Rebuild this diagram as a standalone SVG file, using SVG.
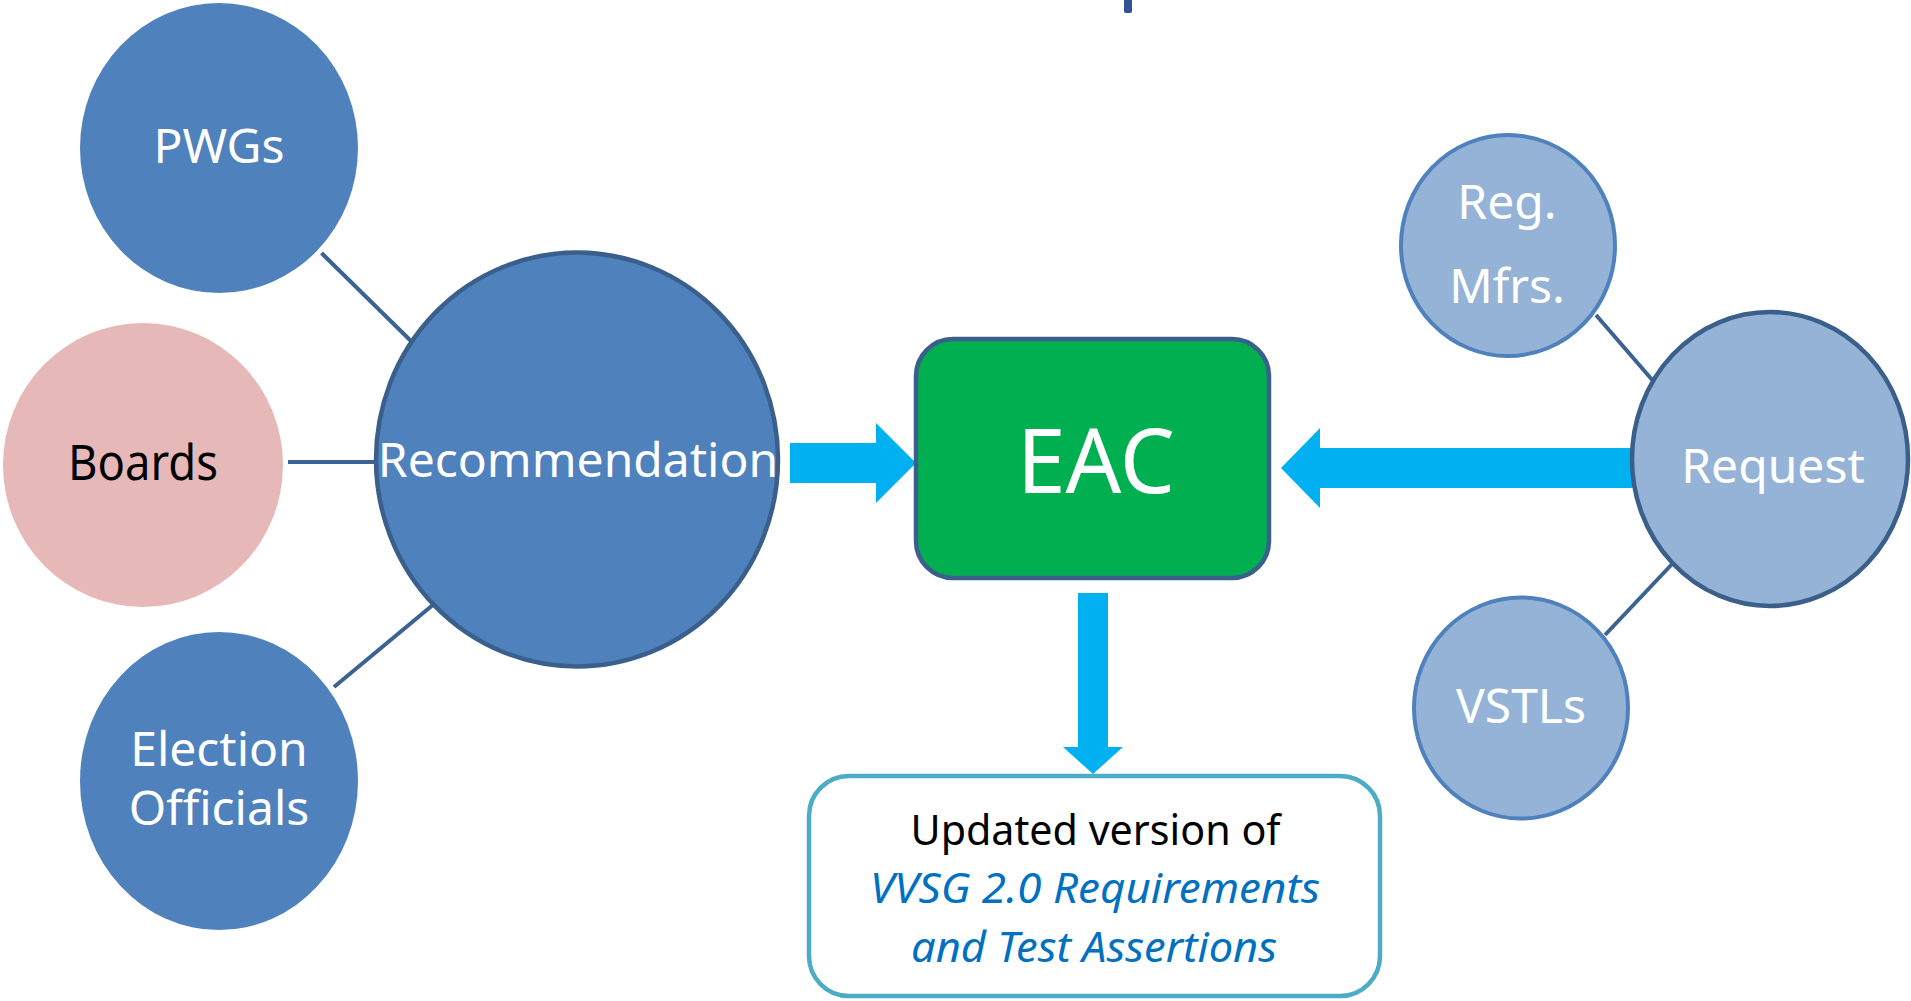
<svg xmlns="http://www.w3.org/2000/svg" width="1911" height="1001" viewBox="0 0 1911 1001">
<style>
.t{font-family:"Noto Sans","Open Sans","Liberation Sans",sans-serif;text-anchor:middle}
.w{fill:#FFFFFF;font-size:48px}
.link{stroke:#3B6293;stroke-width:4;fill:none}
.blk{fill:#00B0F0}
.it{font-style:italic;fill:#0070C0;font-size:41px}
</style>
<rect x="1124" y="-6" width="8" height="19" rx="2" fill="#2F5597"/>
<g id="connectors">
<line class="link" x1="321.5" y1="253" x2="412" y2="342"/>
<line class="link" x1="288" y1="462" x2="378" y2="462"/>
<line class="link" x1="334" y1="687" x2="434" y2="604"/>
<line class="link" x1="1596" y1="315" x2="1654" y2="382"/>
<line class="link" x1="1605" y1="635" x2="1674" y2="562"/>
<polygon class="blk" points="790,443 876,443 876,423 916,463 876,503 876,483 790,483"/>
<polygon class="blk" points="1640,448 1320,448 1320,428 1281,468 1320,508 1320,488 1640,488"/>
<polygon class="blk" points="1078,593 1108,593 1108,747 1123,747 1093,774 1063,747 1078,747"/>
</g>
<g id="pwgs">
<ellipse cx="219" cy="148" rx="139" ry="145" fill="#4F81BD"/>
<text class="t w" x="219" y="163">PWGs</text>
</g>
<g id="boards">
<ellipse cx="143" cy="465" rx="140" ry="142" fill="#E6B9B8"/>
<text class="t" x="143" y="480" font-size="50" fill="#000000" textLength="150" lengthAdjust="spacingAndGlyphs">Boards</text>
</g>
<g id="election">
<ellipse cx="219" cy="781" rx="139" ry="149" fill="#4F81BD"/>
<text class="t w" x="219" y="766">Election</text>
<text class="t w" x="219" y="825">Officials</text>
</g>
<g id="recommendation">
<ellipse cx="577" cy="459.5" rx="201" ry="207" fill="#4F81BD" stroke="#3A5F8B" stroke-width="4.5"/>
<text class="t w" x="578" y="477">Recommendation</text>
</g>
<g id="eac">
<rect x="916" y="339" width="353" height="239" rx="37" fill="#00B050" stroke="#3A5F8B" stroke-width="4.5"/>
<text class="t" x="1096" y="493" font-size="90" fill="#FFFFFF" textLength="158" lengthAdjust="spacingAndGlyphs">EAC</text>
</g>
<g id="reg">
<ellipse cx="1508" cy="245.5" rx="107" ry="110.5" fill="#95B3D7" stroke="#4F81BD" stroke-width="4"/>
<text class="t w" x="1507" y="219">Reg.</text>
<text class="t w" x="1507" y="303">Mfrs.</text>
</g>
<g id="request">
<ellipse cx="1770" cy="459" rx="138" ry="147" fill="#95B3D7" stroke="#3A5F8B" stroke-width="4.5"/>
<text class="t w" x="1773" y="483">Request</text>
</g>
<g id="vstls">
<ellipse cx="1521" cy="708" rx="107" ry="110.5" fill="#95B3D7" stroke="#4F81BD" stroke-width="4"/>
<text class="t w" x="1521" y="723">VSTLs</text>
</g>
<g id="output">
<rect x="809" y="776" width="571" height="220" rx="40" fill="#FFFFFF" stroke="#4BACC6" stroke-width="4.5"/>
<text class="t" x="1095.5" y="845" font-size="41" fill="#000000" textLength="370" lengthAdjust="spacingAndGlyphs">Updated version of</text>
<text class="t it" x="1095" y="903" textLength="450" lengthAdjust="spacingAndGlyphs">VVSG 2.0 Requirements</text>
<text class="t it" x="1094" y="962" textLength="366" lengthAdjust="spacingAndGlyphs">and Test Assertions</text>
</g>
</svg>
